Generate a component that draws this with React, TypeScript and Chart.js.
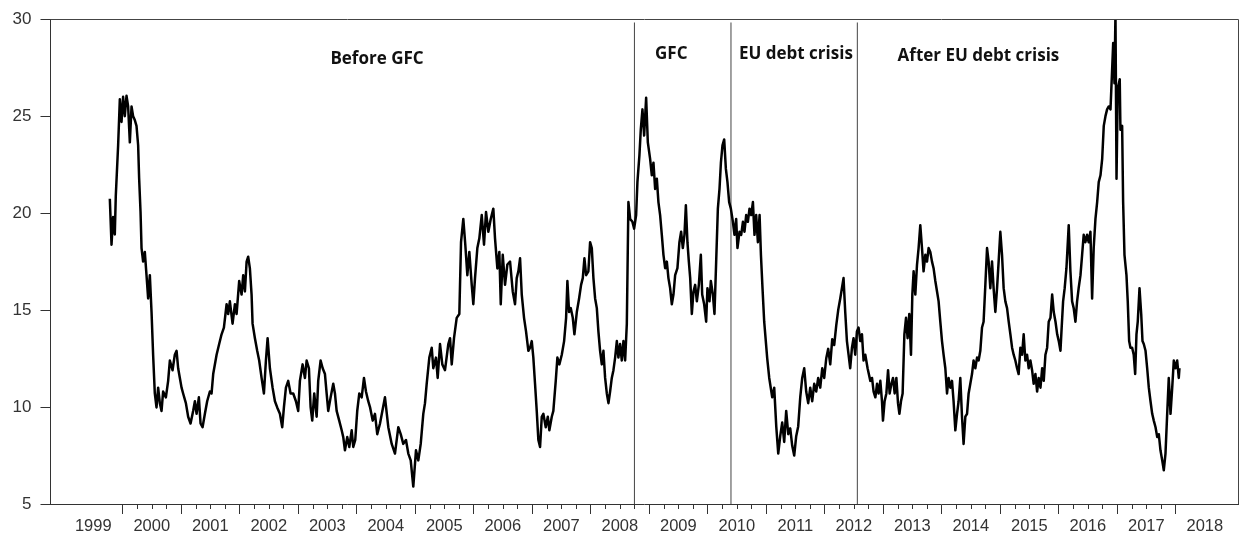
import React, { useEffect, useRef } from 'react';
import { Chart, registerables } from 'chart.js';

Chart.register(...registerables);

// ---- axis / labels ----
const yearLabels = ['1999', '2000', '2001', '2002', '2003', '2004', '2005', '2006', '2007', '2008', '2009', '2010', '2011', '2012', '2013', '2014', '2015', '2016', '2017', '2018'];
const yMin = 5;
const yMax = 30;
const yStep = 5;
const xMin = 1998.769;
const xMax = 2019.075;

// ---- period annotations ----
const periodBreaks = [2008.75, 2010.4, 2012.56];
const breakTop = 29.83;
const periodLabels = ['Before GFC', 'GFC', 'EU debt crisis', 'After EU debt crisis'];
const periodLabelX = [2004.35, 2009.38, 2011.51, 2014.63];
const periodLabelY = [27.95, 28.2, 28.2, 28.1];

// ---- series (decimal year, value) ----
const seriesDates = [
  1999.783, 1999.812, 1999.839, 1999.868, 1999.885, 1999.925, 1999.954, 1999.983, 2000.010, 2000.039,
  2000.068, 2000.096, 2000.125, 2000.154, 2000.181, 2000.210, 2000.239, 2000.267, 2000.284, 2000.308,
  2000.325, 2000.352, 2000.381, 2000.410, 2000.438, 2000.467, 2000.496, 2000.523, 2000.552, 2000.581,
  2000.609, 2000.638, 2000.667, 2000.694, 2000.741, 2000.780, 2000.809, 2000.855, 2000.894, 2000.924,
  2000.951, 2000.980, 2001.009, 2001.036, 2001.083, 2001.122, 2001.163, 2001.207, 2001.237, 2001.266,
  2001.305, 2001.334, 2001.368, 2001.408, 2001.447, 2001.493, 2001.522, 2001.550, 2001.608, 2001.652,
  2001.693, 2001.733, 2001.779, 2001.806, 2001.835, 2001.881, 2001.921, 2001.950, 2001.994, 2002.035,
  2002.063, 2002.092, 2002.121, 2002.148, 2002.177, 2002.206, 2002.223, 2002.263, 2002.302, 2002.336,
  2002.377, 2002.417, 2002.451, 2002.480, 2002.519, 2002.565, 2002.605, 2002.644, 2002.690, 2002.730,
  2002.759, 2002.793, 2002.832, 2002.873, 2002.918, 2002.964, 2003.003, 2003.032, 2003.078, 2003.118,
  2003.147, 2003.186, 2003.215, 2003.243, 2003.277, 2003.318, 2003.345, 2003.386, 2003.421, 2003.460,
  2003.489, 2003.516, 2003.557, 2003.602, 2003.631, 2003.660, 2003.704, 2003.746, 2003.773, 2003.802,
  2003.841, 2003.876, 2003.917, 2003.944, 2003.978, 2004.012, 2004.047, 2004.088, 2004.127, 2004.161,
  2004.200, 2004.230, 2004.276, 2004.315, 2004.354, 2004.401, 2004.486, 2004.543, 2004.601, 2004.657,
  2004.714, 2004.755, 2004.799, 2004.845, 2004.885, 2004.926, 2004.970, 2005.016, 2005.056, 2005.097,
  2005.141, 2005.170, 2005.199, 2005.244, 2005.285, 2005.312, 2005.358, 2005.387, 2005.427, 2005.466,
  2005.512, 2005.569, 2005.598, 2005.627, 2005.666, 2005.712, 2005.757, 2005.786, 2005.825, 2005.859,
  2005.894, 2005.928, 2005.969, 2005.996, 2006.025, 2006.065, 2006.099, 2006.140, 2006.179, 2006.213,
  2006.253, 2006.294, 2006.338, 2006.367, 2006.407, 2006.441, 2006.465, 2006.499, 2006.538, 2006.578,
  2006.624, 2006.670, 2006.709, 2006.738, 2006.766, 2006.795, 2006.824, 2006.863, 2006.897, 2006.937,
  2006.966, 2006.995, 2007.022, 2007.051, 2007.080, 2007.108, 2007.137, 2007.166, 2007.193, 2007.234,
  2007.269, 2007.296, 2007.337, 2007.364, 2007.405, 2007.433, 2007.467, 2007.508, 2007.548, 2007.582,
  2007.604, 2007.633, 2007.662, 2007.696, 2007.724, 2007.765, 2007.804, 2007.838, 2007.867, 2007.895,
  2007.924, 2007.963, 2007.992, 2008.021, 2008.049, 2008.078, 2008.107, 2008.134, 2008.163, 2008.192,
  2008.220, 2008.249, 2008.278, 2008.306, 2008.334, 2008.363, 2008.391, 2008.420, 2008.449, 2008.476,
  2008.505, 2008.534, 2008.562, 2008.591, 2008.620, 2008.647, 2008.677, 2008.716, 2008.745, 2008.779,
  2008.801, 2008.835, 2008.859, 2008.887, 2008.916, 2008.950, 2008.979, 2009.018, 2009.047, 2009.075,
  2009.104, 2009.133, 2009.160, 2009.189, 2009.218, 2009.246, 2009.275, 2009.304, 2009.331, 2009.360,
  2009.389, 2009.417, 2009.446, 2009.485, 2009.519, 2009.548, 2009.577, 2009.605, 2009.629, 2009.656,
  2009.680, 2009.703, 2009.731, 2009.759, 2009.788, 2009.817, 2009.851, 2009.885, 2009.908, 2009.942,
  2009.976, 2009.998, 2010.033, 2010.056, 2010.091, 2010.118, 2010.147, 2010.176, 2010.204, 2010.228,
  2010.255, 2010.284, 2010.313, 2010.340, 2010.369, 2010.398, 2010.433, 2010.460, 2010.489, 2010.511,
  2010.546, 2010.575, 2010.604, 2010.631, 2010.660, 2010.689, 2010.717, 2010.746, 2010.775, 2010.802,
  2010.831, 2010.860, 2010.889, 2010.912, 2010.939, 2010.968, 2011.020, 2011.054, 2011.105, 2011.139,
  2011.174, 2011.208, 2011.242, 2011.276, 2011.310, 2011.344, 2011.379, 2011.413, 2011.447, 2011.481,
  2011.515, 2011.549, 2011.584, 2011.618, 2011.652, 2011.686, 2011.720, 2011.755, 2011.789, 2011.823,
  2011.857, 2011.891, 2011.926, 2011.960, 2011.994, 2012.028, 2012.062, 2012.097, 2012.131, 2012.165,
  2012.199, 2012.233, 2012.268, 2012.324, 2012.353, 2012.382, 2012.410, 2012.438, 2012.468, 2012.495,
  2012.524, 2012.553, 2012.581, 2012.610, 2012.639, 2012.666, 2012.696, 2012.735, 2012.782, 2012.811,
  2012.838, 2012.868, 2012.897, 2012.923, 2012.953, 2012.981, 2012.998, 2013.026, 2013.056, 2013.085,
  2013.112, 2013.142, 2013.170, 2013.198, 2013.227, 2013.255, 2013.279, 2013.306, 2013.334, 2013.364,
  2013.392, 2013.419, 2013.448, 2013.477, 2013.500, 2013.522, 2013.551, 2013.580, 2013.607, 2013.636,
  2013.665, 2013.692, 2013.722, 2013.751, 2013.778, 2013.807, 2013.836, 2013.863, 2013.893, 2013.922,
  2013.949, 2013.978, 2014.007, 2014.034, 2014.064, 2014.093, 2014.120, 2014.149, 2014.178, 2014.205,
  2014.235, 2014.264, 2014.291, 2014.320, 2014.349, 2014.376, 2014.406, 2014.435, 2014.462, 2014.491,
  2014.520, 2014.547, 2014.577, 2014.606, 2014.633, 2014.662, 2014.691, 2014.718, 2014.748, 2014.777,
  2014.804, 2014.833, 2014.862, 2014.889, 2014.919, 2014.948, 2014.975, 2015.004, 2015.033, 2015.061,
  2015.090, 2015.119, 2015.147, 2015.176, 2015.205, 2015.232, 2015.261, 2015.290, 2015.317, 2015.347,
  2015.376, 2015.403, 2015.432, 2015.461, 2015.489, 2015.518, 2015.547, 2015.574, 2015.604, 2015.633,
  2015.660, 2015.690, 2015.719, 2015.746, 2015.775, 2015.804, 2015.831, 2015.861, 2015.890, 2015.917,
  2015.947, 2015.976, 2016.003, 2016.032, 2016.049, 2016.077, 2016.104, 2016.134, 2016.173, 2016.202,
  2016.231, 2016.258, 2016.288, 2016.316, 2016.343, 2016.374, 2016.402, 2016.429, 2016.458, 2016.487,
  2016.514, 2016.544, 2016.573, 2016.600, 2016.630, 2016.659, 2016.686, 2016.716, 2016.745, 2016.772,
  2016.801, 2016.829, 2016.857, 2016.887, 2016.915, 2016.933, 2016.955, 2016.972, 2016.990, 2017.011,
  2017.045, 2017.057, 2017.086, 2017.103, 2017.126, 2017.160, 2017.182, 2017.206, 2017.228, 2017.257,
  2017.284, 2017.309, 2017.331, 2017.353, 2017.383, 2017.412, 2017.434, 2017.456, 2017.486, 2017.514,
  2017.542, 2017.571, 2017.600, 2017.627, 2017.657, 2017.686, 2017.713, 2017.741, 2017.771, 2017.798,
  2017.827, 2017.856, 2017.883, 2017.913, 2017.942, 2017.969, 2017.998, 2018.027, 2018.054, 2018.066,
];

const seriesValues = [
  20.74, 18.37, 19.8, 18.9, 20.9, 23.5, 25.87, 24.7, 26.0, 25.0,
  26.05, 25.5, 23.65, 25.5, 25.0, 24.8, 24.5, 23.5, 21.8, 20.06,
  18.2, 17.5, 18.0, 16.8, 15.6, 16.8, 14.9, 12.7, 10.7, 9.98,
  11.0, 10.2, 9.8, 10.8, 10.5, 11.35, 12.4, 11.9, 12.7, 12.9,
  12.0, 11.5, 11.0, 10.7, 10.2, 9.5, 9.15, 9.8, 10.3, 9.65,
  10.5, 9.15, 8.96, 9.65, 10.3, 10.8, 10.7, 11.7, 12.7, 13.25,
  13.75, 14.1, 15.3, 14.8, 15.45, 14.3, 15.3, 14.8, 16.5, 15.8,
  16.8, 15.96, 17.5, 17.75, 17.15, 15.8, 14.3, 13.55, 12.9, 12.4,
  11.5, 10.7, 12.4, 13.55, 12.0, 11.0, 10.3, 9.98, 9.65, 8.96,
  10.0, 11.0, 11.35, 10.7, 10.7, 10.3, 9.8, 11.35, 12.2, 11.5,
  12.4, 12.0, 10.0, 9.3, 10.7, 9.5, 11.35, 12.4, 12.0, 11.7,
  10.7, 9.8, 10.5, 11.2, 10.7, 9.8, 9.3, 8.8, 8.45, 7.77,
  8.45, 7.94, 8.8, 7.94, 8.3, 9.8, 10.7, 10.5, 11.5, 10.8,
  10.3, 10.0, 9.3, 9.65, 8.6, 9.15, 10.5, 8.96, 8.1, 7.6,
  8.96, 8.6, 8.1, 8.3, 7.6, 7.25, 5.9, 7.77, 7.25, 8.1,
  9.65, 10.2, 11.2, 12.55, 13.06, 12.0, 12.55, 11.5, 13.25, 12.2,
  11.9, 13.25, 13.55, 12.2, 13.55, 14.6, 14.8, 18.5, 19.7, 18.37,
  16.8, 18.0, 16.3, 15.3, 16.65, 18.2, 18.7, 19.9, 18.37, 20.06,
  19.04, 19.7, 20.23, 18.7, 17.15, 18.0, 15.3, 17.85, 16.3, 17.35,
  17.5, 15.96, 15.3, 16.65, 17.0, 17.67, 15.8, 14.6, 13.9, 12.9,
  13.06, 13.4, 12.55, 11.2, 9.8, 8.3, 7.94, 9.5, 9.65, 8.96,
  9.5, 8.8, 9.5, 9.8, 11.35, 12.55, 12.2, 12.7, 13.4, 14.6,
  16.5, 14.9, 15.1, 14.6, 13.75, 14.9, 15.6, 16.3, 16.65, 17.67,
  16.8, 17.0, 18.5, 18.2, 16.65, 15.6, 15.1, 13.9, 12.9, 12.2,
  12.9, 11.5, 10.7, 10.2, 10.8, 11.5, 11.9, 12.55, 13.4, 12.55,
  13.25, 12.4, 13.4, 12.4, 14.3, 20.57, 19.7, 19.55, 19.2, 19.9,
  21.6, 22.98, 24.33, 25.35, 24.0, 25.95, 23.65, 22.8, 21.95, 22.6,
  21.25, 21.77, 20.57, 19.9, 18.88, 17.85, 17.16, 17.5, 16.65, 16.13,
  15.3, 15.8, 16.8, 17.16, 18.5, 19.04, 18.2, 18.88, 20.4, 18.5,
  17.5, 16.65, 14.8, 15.96, 16.3, 15.45, 16.3, 17.85, 15.8, 15.3,
  14.4, 16.13, 15.45, 16.5, 15.8, 14.8, 17.5, 20.23, 21.25, 22.6,
  23.5, 23.8, 22.28, 21.6, 20.57, 20.23, 19.55, 18.88, 19.7, 18.2,
  19.04, 18.88, 19.55, 19.04, 19.9, 19.55, 20.23, 19.9, 20.57, 18.88,
  19.9, 18.5, 19.9, 17.85, 16.13, 14.4, 12.5, 11.5, 10.5, 11.0,
  9.0, 7.6, 8.5, 9.2, 8.2, 9.8, 8.6, 8.9, 8.0, 7.5,
  8.5, 9.0, 10.5, 11.5, 12.0, 10.8, 10.2, 11.0, 10.3, 11.2,
  10.8, 11.5, 11.0, 12.0, 11.5, 12.5, 13.0, 12.2, 13.5, 13.2,
  14.2, 15.0, 15.6, 16.65, 14.9, 13.4, 12.7, 12.0, 13.06, 13.55,
  12.7, 13.9, 14.1, 13.4, 13.75, 12.4, 12.7, 12.0, 11.35, 11.5,
  10.8, 10.5, 11.2, 10.7, 11.35, 10.3, 9.3, 10.3, 10.7, 11.9,
  10.7, 11.2, 11.5, 10.7, 11.5, 10.2, 9.65, 10.3, 10.7, 13.75,
  14.6, 13.55, 14.8, 12.7, 15.8, 17.0, 15.8, 17.35, 18.2, 19.38,
  18.2, 17.0, 17.85, 17.5, 18.2, 18.0, 17.5, 17.16, 16.5, 15.96,
  15.45, 14.4, 13.4, 12.7, 12.0, 10.7, 11.5, 11.0, 11.35, 10.3,
  8.8, 9.65, 10.3, 11.5, 9.5, 8.1, 9.5, 9.65, 10.7, 11.2,
  11.7, 12.4, 12.0, 12.55, 12.4, 12.9, 14.1, 14.4, 16.3, 18.2,
  17.5, 16.13, 17.5, 16.13, 14.9, 16.13, 17.5, 19.04, 17.85, 16.13,
  15.45, 15.1, 14.4, 13.75, 13.06, 12.7, 12.4, 12.0, 11.7, 13.06,
  12.7, 13.75, 12.4, 12.7, 12.0, 12.4, 11.9, 11.2, 11.7, 10.8,
  11.5, 11.0, 12.0, 11.35, 12.7, 13.06, 14.4, 14.6, 15.8, 14.9,
  14.4, 13.75, 13.4, 12.9, 13.9, 15.45, 16.13, 17.16, 19.38, 17.0,
  15.45, 15.1, 14.4, 15.45, 16.13, 16.8, 17.85, 18.88, 18.5, 18.88,
  18.5, 19.04, 15.6, 18.2, 19.7, 20.57, 21.6, 21.95, 22.8, 24.5,
  25.0, 25.35, 25.5, 25.35, 27.4, 28.77, 26.7, 30.3, 21.77, 26.4,
  26.9, 24.3, 24.5, 20.57, 17.85, 16.8, 15.45, 13.4, 13.06, 13.06,
  12.7, 11.7, 13.75, 14.4, 16.13, 14.8, 13.4, 13.25, 12.9, 12.0,
  11.0, 10.3, 9.65, 9.3, 8.96, 8.45, 8.6, 7.77, 7.25, 6.74,
  7.6, 9.65, 11.5, 9.65, 11.0, 12.4, 12.0, 12.4, 11.5, 12.0,
];

// tick positions derived from year labels: year labels at mid-year, long ticks at year starts
const firstYear = Number(yearLabels[0]);
const lastYear = Number(yearLabels[yearLabels.length - 1]);
const xTickValues: number[] = [];
yearLabels.forEach((lab, i) => {
  const yr = Number(lab);
  xTickValues.push(yr + 0.5);
  if (i < yearLabels.length - 1) xTickValues.push(yr + 1);
});
const minorTickValues: number[] = [];
for (let yr = firstYear + 1; yr < lastYear; yr++) {
  minorTickValues.push(yr + 0.25, yr + 0.5, yr + 0.75);
}

const isYearStart = (v: number) => Math.abs(v - Math.round(v)) < 1e-6;

const decorPlugin = {
  id: 'decor',
  afterDraw(chart: any) {
    const { ctx, chartArea: a, scales } = chart;
    const x = scales.x;
    const y = scales.y;
    ctx.save();
    // top and right frame
    ctx.strokeStyle = '#444';
    ctx.lineWidth = 1;
    ctx.beginPath();
    const top = Math.round(a.top) + 0.5;
    const right = Math.round(a.right) - 0.5;
    ctx.moveTo(a.left, top);
    ctx.lineTo(right, top);
    ctx.lineTo(right, a.bottom);
    ctx.stroke();
    // minor quarter ticks
    ctx.strokeStyle = '#333';
    ctx.beginPath();
    minorTickValues.forEach((v) => {
      const px = Math.round(x.getPixelForValue(v)) + 0.5;
      ctx.moveTo(px, a.bottom);
      ctx.lineTo(px, a.bottom + 5);
    });
    ctx.stroke();
    // period labels
    ctx.font = 'bold 17px "Open Sans"';
    ctx.fillStyle = '#111';
    ctx.textAlign = 'center';
    ctx.textBaseline = 'middle';
    periodLabels.forEach((t, i) => {
      ctx.fillText(t, x.getPixelForValue(periodLabelX[i]), y.getPixelForValue(periodLabelY[i]));
    });
    ctx.restore();
  },
};

export default function App() {
  const canvasRef = useRef<HTMLCanvasElement | null>(null);

  useEffect(() => {
    const canvas = canvasRef.current;
    if (!canvas) return;
    Chart.defaults.font.family = '"Liberation Sans", Arial, sans-serif';
    const mainData = seriesDates.map((d, i) => ({ x: d, y: seriesValues[i] }));
    const breakSets = periodBreaks.map((b) => ({
      data: [
        { x: b, y: yMin },
        { x: b, y: breakTop },
      ],
      borderColor: '#444',
      borderWidth: 1,
      pointRadius: 0,
      order: 2,
    }));
    const chart = new Chart(canvas, {
      type: 'line',
      data: {
        datasets: [
          {
            data: mainData,
            borderColor: '#000',
            borderWidth: 2.5,
            pointRadius: 0,
            tension: 0,
            borderJoinStyle: 'round',
            order: 0,
          } as any,
          ...breakSets,
        ],
      },
      options: {
        animation: false,
        responsive: false,
        maintainAspectRatio: false,
        layout: { padding: { top: 16, right: 10.5, left: 0, bottom: 0 } },
        plugins: { legend: { display: false }, tooltip: { enabled: false } },
        scales: {
          x: {
            type: 'linear',
            min: xMin,
            max: xMax,
            afterBuildTicks: (s: any) => {
              s.ticks = xTickValues.map((v) => ({ value: v }));
            },
            afterFit: (s: any) => {
              s.height = 39;
            },
            ticks: {
              autoSkip: false,
              maxRotation: 0,
              minRotation: 0,
              padding: 3,
              color: '#333',
              font: { size: 16.5 },
              callback: (v: any) => {
                const n = Number(v);
                if (isYearStart(n)) return '';
                return yearLabels[Math.floor(n) - firstYear] ?? '';
              },
            },
            grid: {
              drawOnChartArea: false,
              drawTicks: true,
              tickLength: 10,
              tickColor: (c: any) => (c.tick && isYearStart(c.tick.value) ? '#333' : 'rgba(0,0,0,0)'),
            },
            border: { color: '#333', width: 1 },
          },
          y: {
            min: yMin,
            max: yMax,
            afterFit: (s: any) => {
              s.width = 50.5;
            },
            ticks: { stepSize: yStep, padding: 9, color: '#333', font: { size: 17 } },
            grid: { drawOnChartArea: false, drawTicks: true, tickLength: 10, tickColor: '#333' },
            border: { color: '#333', width: 1 },
          },
        },
      },
      plugins: [decorPlugin],
    } as any);
    return () => chart.destroy();
  }, []);

  return (
    <div style={{ position: 'absolute', left: 0, top: 0, width: 1249, height: 543, background: '#fff' }}>
      <canvas ref={canvasRef} width={1249} height={543} style={{ display: 'block' }} />
    </div>
  );
}
